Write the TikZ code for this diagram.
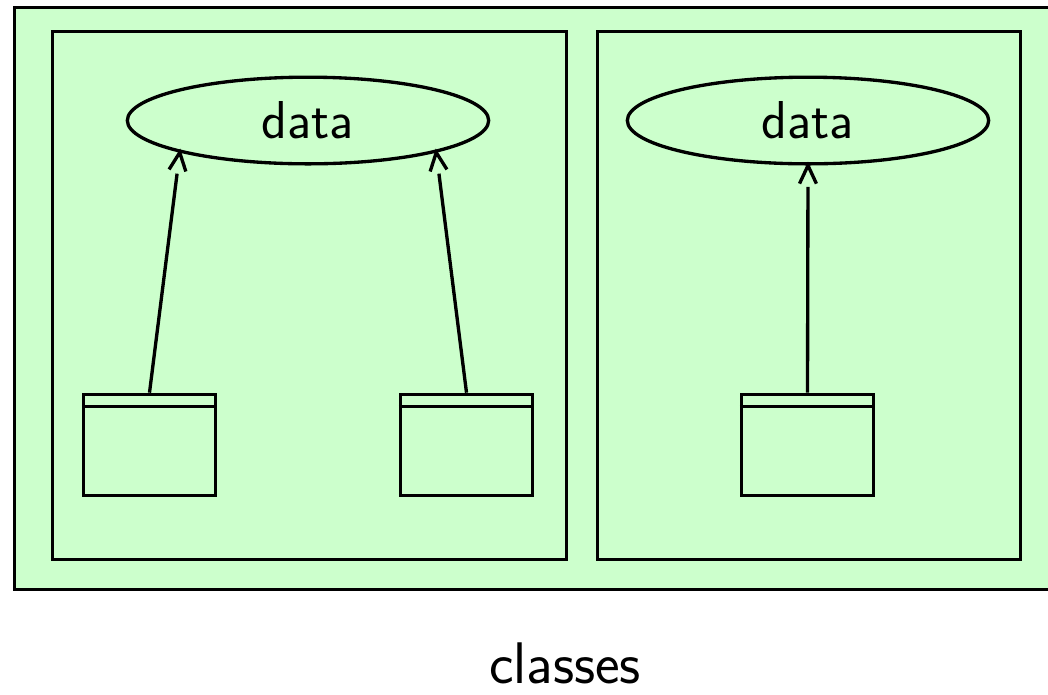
\documentclass[tikz,border=0pt]{standalone}
\usetikzlibrary{calc,shapes.geometric}
\definecolor{pkgfill}{HTML}{CCFFCC}
\tikzset{
  px/.style={x=0.75pt,y=-0.75pt},
  frame/.style={draw=black,line width=2.5pt,fill=pkgfill},
  usecase/.style={ellipse,draw=black,line width=2.5pt,fill=pkgfill,minimum width=271pt,minimum height=65pt,inner sep=0pt,font=\sffamily\fontsize{40}{44}\selectfont},
  classbox/.style={rectangle,draw=black,line width=2.5pt,fill=pkgfill,minimum width=99pt,minimum height=76pt,inner sep=0pt},
  conn/.style={draw=black,line width=2.5pt,shorten >=16pt},
  barb/.style={draw=black,line width=2.5pt},
  caption/.style={font=\sffamily\fontsize{44}{50}\selectfont,anchor=base,inner sep=0pt}
}
\begin{document}
\begin{tikzpicture}[px]
\useasboundingbox (0,0) rectangle (1048,694);
\node[frame,rectangle,minimum width=786pt,minimum height=436.5pt,inner sep=0pt,anchor=north west] (outer) at (13,6) {};
\node[frame,rectangle,minimum width=385.5pt,minimum height=396pt,inner sep=0pt,anchor=north west] (p1) at (51,30) {};
\node[frame,rectangle,minimum width=317.25pt,minimum height=396pt,inner sep=0pt,anchor=north west] (p2) at (596,30) {};
\node[usecase] (e1) at (308,120.5) {data};
\node[usecase] (e2) at (808,120.5) {data};
\node[classbox] (b1) at (149.5,445) {};
\node[classbox] (b2) at (466.5,445) {};
\node[classbox] (b3) at (807.5,445) {};
\foreach \b in {b1,b2,b3}{
  \draw[barb] ($(\b.north west)+(0,14)$) -- ($(\b.north east)+(0,14)$);
}
\draw[conn] (b1.north) -- (e1.194);
\draw[barb] ($(e1.194)!15pt!25:(b1.north)$) -- (e1.194) -- ($(e1.194)!15pt!-25:(b1.north)$);
\draw[conn] (b2.north) -- (e1.-14);
\draw[barb] ($(e1.-14)!15pt!25:(b2.north)$) -- (e1.-14) -- ($(e1.-14)!15pt!-25:(b2.north)$);
\draw[conn] (b3.north) -- (e2.south);
\draw[barb] ($(e2.south)!15pt!25:(b3.north)$) -- (e2.south) -- ($(e2.south)!15pt!-25:(b3.north)$);
\node[caption] (cap) at (565,683) {classes};
\end{tikzpicture}
\end{document}
